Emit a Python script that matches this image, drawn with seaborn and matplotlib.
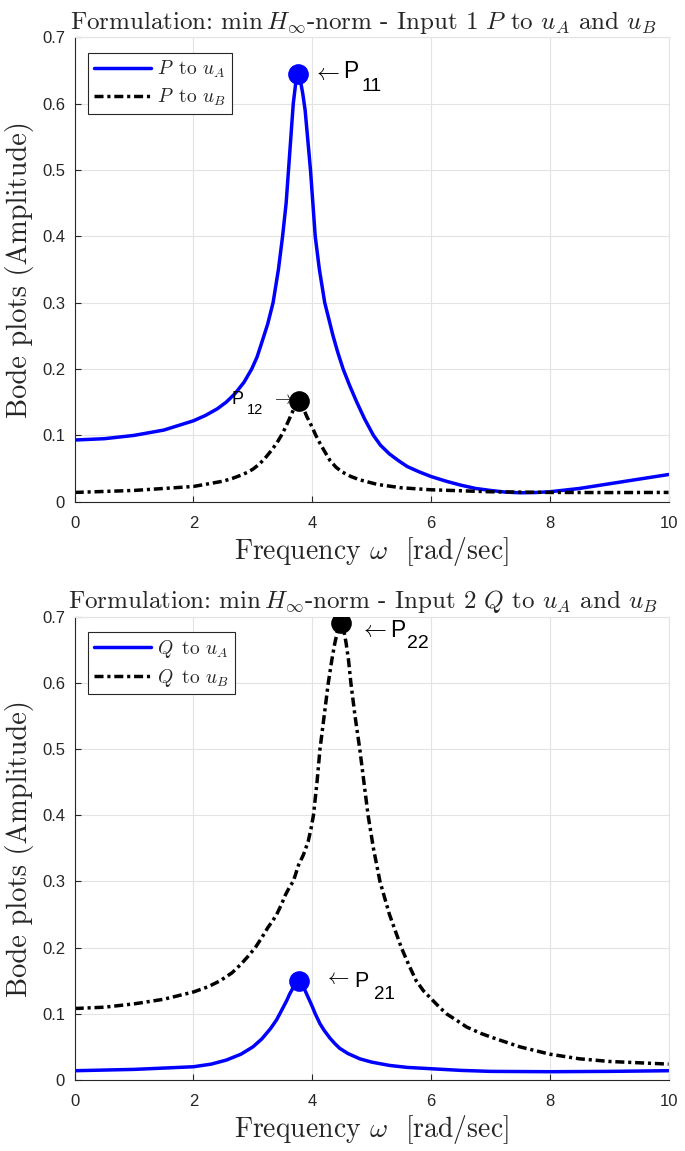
import numpy as np
import matplotlib
matplotlib.use("Agg")
import matplotlib.pyplot as plt
import seaborn as sns

# amplitude curves, frequency in rad/sec
# input 1: P
w_p_ua = [0, 0.5, 1.0, 1.5, 2.0, 2.2, 2.4, 2.55, 2.7, 2.85, 2.98, 3.07, 3.15, 3.25, 3.34,
          3.43, 3.50, 3.56, 3.60, 3.64, 3.68, 3.72, 3.76, 3.80, 3.84, 3.88, 3.93, 3.97,
          4.01, 4.05, 4.12, 4.21, 4.28, 4.35, 4.43, 4.52, 4.63, 4.75, 4.88, 5.03, 5.15,
          5.3, 5.45, 5.6, 5.8, 6.0, 6.25, 6.5, 6.75, 7.0, 7.25, 7.5, 7.75, 8.0, 8.5, 9.0,
          9.5, 10.0]
amp_p_ua = [0.093, 0.095, 0.100, 0.108, 0.122, 0.130, 0.140, 0.150, 0.163, 0.180, 0.200,
            0.218, 0.240, 0.268, 0.300, 0.350, 0.400, 0.450, 0.500, 0.550, 0.600, 0.630,
            0.645, 0.635, 0.615, 0.590, 0.540, 0.500, 0.450, 0.400, 0.350, 0.300, 0.275,
            0.250, 0.225, 0.200, 0.175, 0.150, 0.125, 0.100, 0.085, 0.072, 0.062, 0.053,
            0.045, 0.038, 0.031, 0.025, 0.020, 0.017, 0.0145, 0.0135, 0.0138, 0.015, 0.020,
            0.027, 0.034, 0.041]

w_p_ub = [0, 1.0, 2.0, 2.5, 2.65, 2.8, 2.9, 3.0, 3.1, 3.2, 3.3, 3.4, 3.48, 3.55, 3.6, 3.65,
          3.72, 3.77, 3.82, 3.86, 3.90, 3.95, 4.0, 4.06, 4.13, 4.2, 4.3, 4.4, 4.5, 4.65, 4.8,
          5.1, 5.5, 6.0, 7.0, 8.0, 9.0, 10.0]
amp_p_ub = [0.014, 0.017, 0.023, 0.031, 0.035, 0.040, 0.044, 0.049, 0.056, 0.065, 0.076,
            0.088, 0.100, 0.112, 0.122, 0.132, 0.146, 0.152, 0.146, 0.139, 0.130, 0.121,
            0.112, 0.100, 0.088, 0.077, 0.062, 0.052, 0.045, 0.038, 0.033, 0.026, 0.021,
            0.018, 0.015, 0.014, 0.0138, 0.014]

# input 2: Q
w_q_ua = [0, 1.0, 2.0, 2.3, 2.55, 2.8, 3.0, 3.15, 3.3, 3.4, 3.5, 3.57, 3.62, 3.70, 3.77,
          3.84, 3.89, 3.94, 4.0, 4.05, 4.13, 4.2, 4.3, 4.38, 4.46, 4.6, 4.8, 5.0, 5.3, 5.6,
          6.0, 6.5, 7.0, 8.0, 9.0, 10.0]
amp_q_ua = [0.014, 0.016, 0.020, 0.024, 0.030, 0.039, 0.050, 0.062, 0.078, 0.091, 0.108,
            0.120, 0.130, 0.143, 0.150, 0.143, 0.133, 0.123, 0.111, 0.100, 0.085, 0.075,
            0.063, 0.055, 0.048, 0.040, 0.032, 0.027, 0.022, 0.019, 0.017, 0.0145, 0.013,
            0.0125, 0.013, 0.014]

w_q_ub = [0, 0.5, 1.0, 1.5, 2.0, 2.25, 2.45, 2.65, 2.8, 2.92, 3.04, 3.15, 3.25, 3.33, 3.40,
          3.48, 3.55, 3.62, 3.68, 3.77, 3.85, 3.93, 3.98, 4.02, 4.08, 4.13, 4.20, 4.27, 4.33,
          4.38, 4.43, 4.48, 4.53, 4.57, 4.61, 4.65, 4.72, 4.80, 4.87, 4.94, 5.03, 5.14, 5.22,
          5.30, 5.40, 5.50, 5.62, 5.75, 5.87, 6.0, 6.13, 6.26, 6.45, 6.6, 6.85, 7.1, 7.5,
          8.0, 8.5, 9.0, 9.5, 10.0]
amp_q_ub = [0.108, 0.110, 0.115, 0.122, 0.133, 0.141, 0.150, 0.162, 0.175, 0.187, 0.200,
            0.215, 0.230, 0.240, 0.250, 0.265, 0.280, 0.292, 0.300, 0.325, 0.340, 0.360,
            0.380, 0.400, 0.450, 0.500, 0.550, 0.600, 0.635, 0.660, 0.680, 0.690, 0.680,
            0.660, 0.635, 0.600, 0.550, 0.500, 0.450, 0.400, 0.350, 0.300, 0.275, 0.250,
            0.225, 0.200, 0.175, 0.150, 0.135, 0.123, 0.111, 0.100, 0.089, 0.080, 0.070,
            0.062, 0.050, 0.039, 0.032, 0.028, 0.026, 0.024]

x_ticks = [0, 2, 4, 6, 8, 10]
y_ticks = [0, 0.1, 0.2, 0.3, 0.4, 0.5, 0.6, 0.7]
y_tick_labels = ["0", "0.1", "0.2", "0.3", "0.4", "0.5", "0.6", "0.7"]

titles = [r"Formulation: $\min\, H_\infty$-norm - Input 1 $P$ to $u_A$ and $u_B$",
          r"Formulation: $\min\, H_\infty$-norm - Input 2 $Q$ to $u_A$ and $u_B$"]
legend_labels = [[r"$P\,$ to $u_A$", r"$P\,$ to $u_B$"],
                 [r"$Q\,$ to $u_A$", r"$Q\,$ to $u_B$"]]
xlabel = r"Frequency $\omega$  [rad/sec]"
ylabel = "Bode plots (Amplitude)"

sns.set_style("ticks")
plt.rcParams["font.family"] = ["Liberation Sans", "DejaVu Sans"]
plt.rcParams["mathtext.fontset"] = "cm"

BLUE = "#0000ff"
GRID = "#e3e3e3"
DARK = "#262626"
DASHDOT = (0, (2.6, 1.1, 0.9, 1.1))
LW = 2.5


def peak_label(ax, x, y, sub, arrow_off, p_off, sub_off, size, sub_size, arrow=r"$\leftarrow$"):
    kw = dict(xy=(x, y), textcoords="offset points", ha="left", color="black")
    ax.annotate(arrow, xytext=arrow_off, va="center", fontsize=size, **kw)
    ax.annotate("P", xytext=p_off, va="baseline", fontsize=size, **kw)
    ax.annotate(sub, xytext=sub_off, va="baseline", fontsize=sub_size, **kw)


def style_axes(ax, title, labels):
    ax.set_xlim(0, 10)
    ax.set_ylim(0, 0.7)
    ax.set_xticks(x_ticks, [str(t) for t in x_ticks])
    ax.set_yticks(y_ticks, y_tick_labels)
    ax.grid(True, color=GRID, lw=0.8)
    ax.set_axisbelow(True)
    for s in ["top", "right"]:
        ax.spines[s].set_color(GRID)
        ax.spines[s].set_linewidth(0.8)
    for s in ["left", "bottom"]:
        ax.spines[s].set_color(DARK)
        ax.spines[s].set_linewidth(0.8)
    ax.tick_params(direction="in", length=4, width=0.8, colors=DARK, labelsize=12)
    ax.tick_params(axis="x", pad=10)
    ax.tick_params(axis="y", pad=7)
    ax.set_title(title, fontsize=18, family="cmr10", pad=6, x=0.485)
    ax.set_xlabel(xlabel, fontsize=20, family="cmr10", labelpad=3)
    ax.set_ylabel(ylabel, fontsize=20.5, family="cmr10", labelpad=6)
    leg = ax.legend(handles=ax.lines[:2], labels=labels, loc="upper left",
                    bbox_to_anchor=(0.023, 0.967), borderaxespad=0,
                    fancybox=False, framealpha=1, edgecolor=DARK, handlelength=2.9,
                    handletextpad=0.35, borderpad=0.3, labelspacing=0.35,
                    prop={"family": "cmr10", "size": 14})
    leg.get_frame().set_linewidth(0.8)


fig = plt.figure(figsize=(6.85, 11.51), dpi=100)
ax1 = fig.add_axes([0.1091, 0.5641, 0.8669, 0.4035])
ax2 = fig.add_axes([0.1091, 0.0617, 0.8669, 0.4025])

# top panel: input P
sns.lineplot(x=w_p_ua, y=amp_p_ua, ax=ax1, color=BLUE, linewidth=LW)
sns.lineplot(x=w_p_ub, y=amp_p_ub, ax=ax1, color="black", linewidth=LW, linestyle=DASHDOT)
style_axes(ax1, titles[0], legend_labels[0])

i11 = int(np.argmax(amp_p_ua))
i12 = int(np.argmax(amp_p_ub))
sns.scatterplot(x=[w_p_ua[i11]], y=[amp_p_ua[i11]], ax=ax1, s=190, color=BLUE,
                edgecolor=BLUE, zorder=5, legend=False)
sns.scatterplot(x=[w_p_ub[i12]], y=[amp_p_ub[i12]], ax=ax1, s=190, color="black",
                edgecolor="black", zorder=5, legend=False)
peak_label(ax1, w_p_ua[i11], amp_p_ua[i11], "11", (9.8, 1), (32.5, -3.1), (45.8, -12.7), 16.5, 14)
peak_label(ax1, w_p_ub[i12], amp_p_ub[i12], "12", (-20.1, 1), (-48.3, -2.6), (-37.2, -9.8), 13, 10.5,
           arrow=r"$\rightarrow$")

# bottom panel: input Q
sns.lineplot(x=w_q_ua, y=amp_q_ua, ax=ax2, color=BLUE, linewidth=LW)
sns.lineplot(x=w_q_ub, y=amp_q_ub, ax=ax2, color="black", linewidth=LW, linestyle=DASHDOT)
style_axes(ax2, titles[1], legend_labels[1])

i21 = int(np.argmax(amp_q_ua))
i22 = int(np.argmax(amp_q_ub))
sns.scatterplot(x=[w_q_ua[i21]], y=[amp_q_ua[i21]], ax=ax2, s=190, color=BLUE,
                edgecolor=BLUE, zorder=5, legend=False)
sns.scatterplot(x=[w_q_ub[i22]], y=[amp_q_ub[i22]], ax=ax2, s=190, color="black",
                edgecolor="black", zorder=5, legend=False)
peak_label(ax2, w_q_ub[i22], amp_q_ub[i22], "22", (13.3, -4.8), (35.5, -9.5), (47.9, -18.1), 16.5, 14)
peak_label(ax2, w_q_ua[i21], amp_q_ua[i21], "21", (18, 1.4), (40.2, -4.3), (54.3, -12.9), 15.5, 13.5)

fig.savefig("out.png", dpi=100)
